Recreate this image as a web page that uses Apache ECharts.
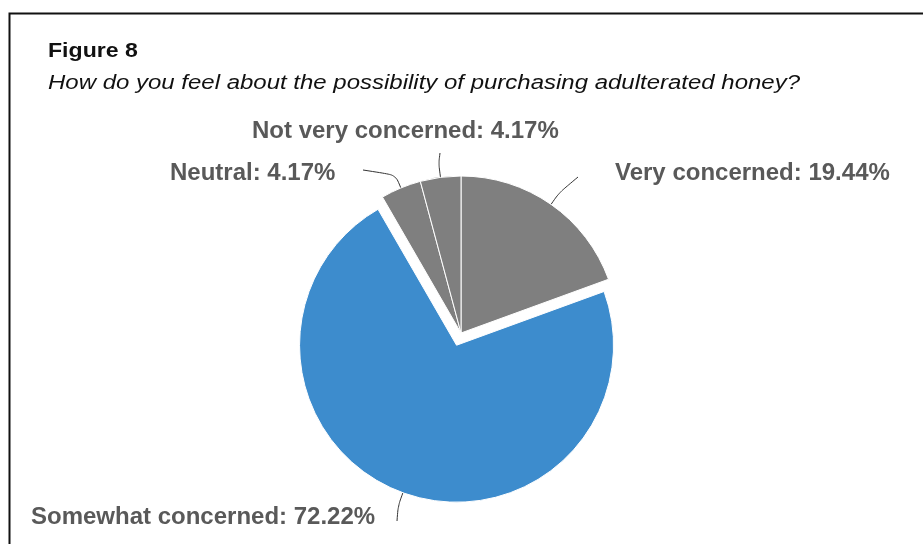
<!DOCTYPE html>
<html>
<head>
<meta charset="utf-8">
<title>Figure 8</title>
<script src="https://cdn.jsdelivr.net/npm/echarts@6/dist/echarts.min.js"></script>
<style>
  html, body { margin: 0; padding: 0; background: #fff; }
  #chart { width: 923px; height: 544px; }
</style>
</head>
<body>
<div id="chart"></div>
<script>
// Survey responses, in clockwise order from 12 o'clock
const categories = ['Very concerned', 'Somewhat concerned', 'Neutral', 'Not very concerned'];
const shares = [19.44, 72.22, 4.17, 4.17];
const sliceColors = ['#7f7f7f', '#3d8ccd', '#7f7f7f', '#7f7f7f'];
const pulledIndex = 1; // the slice drawn pulled out of the pie

const figureTitle = 'Figure 8';
const figureQuestion = 'How do you feel about the possibility of purchasing adulterated honey?';

// Label boxes (left edge / vertical centre) and where each leader line stops,
// leaving a little air between the line and its text
const labelSpots = [
  { x: 615, y: 173, lineEnd: [578, 177] },
  { x: 31,  y: 517, lineEnd: [397, 521] },
  { x: 170, y: 173, lineEnd: [363, 170] },
  { x: 252, y: 131, lineEnd: [440, 153] }
];

const FONT = 'Liberation Sans, Arial, Helvetica, sans-serif';
const pieCenter = [461, 333];
const pieRadius = 157;
const pullDistance = 13;

// Direction of the pulled slice's bisector (clockwise from 12 o'clock)
const total = shares.reduce(function (a, b) { return a + b; }, 0);
const before = shares.slice(0, pulledIndex).reduce(function (a, b) { return a + b; }, 0);
const midAngle = (before + shares[pulledIndex] / 2) / total * Math.PI * 2;
const pulledCenter = [
  pieCenter[0] + pullDistance * Math.sin(midAngle),
  pieCenter[1] - pullDistance * Math.cos(midAngle)
];

const labelStyle = {
  formatter: '{b}: {c}%',
  fontFamily: FONT,
  fontSize: 24,
  fontWeight: 'bold',
  color: '#595959'
};
const leaderStyle = {
  show: true,
  length: 14,
  length2: 14,
  smooth: 0.3,
  lineStyle: { color: '#333', width: 1 }
};

// Keep the library's slice anchor and elbow, finish the leader at lineEnd
function placeLabel(params) {
  const spot = labelSpots[params.dataIndex];
  const out = { x: spot.x, y: spot.y, align: 'left', verticalAlign: 'middle' };
  const pts = params.labelLinePoints;
  if (pts && pts.length >= 2) {
    out.labelLinePoints = [pts[0], pts[1], spot.lineEnd];
  }
  return out;
}

// keepPulled: true -> only the pulled slice is painted; false -> all others
function buildData(keepPulled) {
  return categories.map(function (name, i) {
    const visible = (i === pulledIndex) === keepPulled;
    return {
      name: name,
      value: shares[i],
      itemStyle: visible
        ? { color: sliceColors[i] }
        : { color: 'rgba(0,0,0,0)', borderWidth: 0 },
      label: { show: visible },
      labelLine: { show: visible }
    };
  });
}

const chart = echarts.init(document.getElementById('chart'), null, { renderer: 'canvas' });

const commonPie = {
  type: 'pie',
  radius: pieRadius,
  startAngle: 90,
  clockwise: true,
  silent: true,
  emphasis: { disabled: true },
  avoidLabelOverlap: false,
  itemStyle: { borderColor: '#fff', borderWidth: 1 },
  label: labelStyle,
  labelLine: leaderStyle,
  labelLayout: placeLabel
};

const option = {
  animation: false,
  backgroundColor: '#fff',
  graphic: [
    {
      type: 'polyline',
      shape: { points: [[9.5, 544], [9.5, 13.5], [923, 13.5]] },
      style: { stroke: '#111', lineWidth: 2, fill: null }
    },
    {
      type: 'text',
      x: 48, y: 51,
      scaleX: 1.1,
      style: {
        text: figureTitle,
        font: 'bold 21px ' + FONT,
        fill: '#111',
        verticalAlign: 'middle'
      }
    },
    {
      type: 'text',
      x: 48, y: 83,
      scaleX: 1.17,
      style: {
        text: figureQuestion,
        font: 'italic 20.5px ' + FONT,
        fill: '#111',
        verticalAlign: 'middle'
      }
    }
  ],
  series: [
    Object.assign({}, commonPie, {
      name: 'responses',
      center: pieCenter,
      data: buildData(false)
    }),
    Object.assign({}, commonPie, {
      name: 'responses (pulled)',
      center: pulledCenter,
      data: buildData(true)
    })
  ]
};

chart.setOption(option);
</script>
</body>
</html>
